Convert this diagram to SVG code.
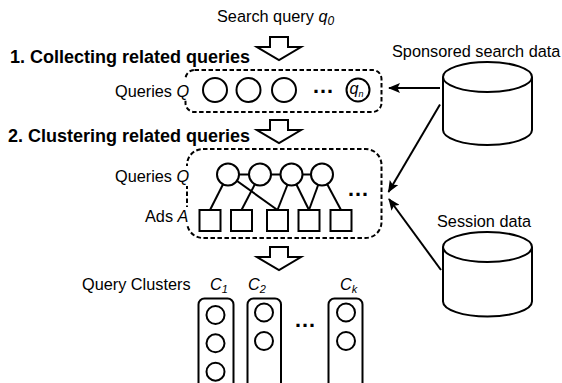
<svg xmlns="http://www.w3.org/2000/svg" width="562" height="383" viewBox="0 0 562 383">
<style>
text{font-family:"Liberation Sans",Arial,sans-serif;fill:#000}
.lbl{font-size:16.3px}
.ttl{font-size:18px;font-weight:bold}
.it{font-style:italic}
.dash{fill:none;stroke:#000;stroke-width:2;stroke-dasharray:4.5 2.5}
.s{fill:#fff;stroke:#000;stroke-width:2}
.ln{stroke:#000;stroke-width:2;fill:none}
.bg{fill:#fff}
.dots{font-size:22px;font-weight:bold}
</style>
<defs>
<marker id="ah" viewBox="0 0 12 10" refX="11" refY="5" markerWidth="12" markerHeight="10" markerUnits="userSpaceOnUse" orient="auto">
<path d="M0,0 L12,5 L0,10 L2.5,5 z" fill="#000"/>
</marker>
<polygon id="bigarrow" points="-9,0 9,0 9,10 22,10 0,23 -22,10 -9,10"/>
</defs>

<text class="lbl" x="217" y="22" font-size="17.3">Search query <tspan class="it">q</tspan><tspan class="it" font-size="12" dy="3">0</tspan></text>

<g id="arrow1"><use href="#bigarrow" x="279" y="37" class="s"/></g>
<text class="ttl" x="10" y="63">1. Collecting related queries</text>

<g id="box1">
<rect class="dash" x="185.5" y="70" width="196" height="42" rx="9"/>
<rect class="bg" x="112" y="79" width="76" height="20"/>
<text class="lbl" x="115" y="97">Queries <tspan class="it">Q</tspan></text>
<circle class="s" cx="215" cy="90" r="12"/>
<circle class="s" cx="248.5" cy="90" r="12"/>
<circle class="s" cx="284" cy="90" r="12"/>
<text class="dots" x="312" y="93">…</text>
<circle class="s" cx="358" cy="90" r="11.5"/>
<text class="lbl it" x="349.5" y="94" font-size="13">q<tspan font-size="9" dy="3">n</tspan></text>
</g>

<g id="arrow2"><use href="#bigarrow" x="279" y="120" class="s"/></g>
<text class="ttl" x="8" y="141.5">2. Clustering related queries</text>

<g id="box2">
<rect class="dash" x="187" y="149" width="194.5" height="89" rx="16"/>
<rect class="bg" x="112" y="166" width="78" height="20"/>
<rect class="bg" x="142" y="207" width="48" height="17"/>
<text class="lbl" x="115" y="181.5">Queries <tspan class="it">Q</tspan></text>
<text class="lbl" x="145" y="222">Ads <tspan class="it">A</tspan></text>
<g class="ln">
<line x1="228" y1="174.5" x2="322" y2="174.5"/>
<line x1="228" y1="174.5" x2="210" y2="210"/>
<line x1="228" y1="174.5" x2="277.5" y2="210"/>
<line x1="260" y1="174.5" x2="241.5" y2="210"/>
<line x1="291.5" y1="174.5" x2="277.5" y2="210"/>
<line x1="291.5" y1="174.5" x2="309" y2="210"/>
<line x1="322" y1="174.5" x2="309" y2="210"/>
<line x1="322" y1="174.5" x2="341" y2="210"/>
</g>
<circle class="s" cx="228" cy="174.5" r="11"/>
<circle class="s" cx="260" cy="174.5" r="11"/>
<circle class="s" cx="291.5" cy="174.5" r="11"/>
<circle class="s" cx="322" cy="174.5" r="11"/>
<rect class="s" x="199.5" y="210" width="21" height="21"/>
<rect class="s" x="231" y="210" width="21" height="21"/>
<rect class="s" x="267" y="210" width="21" height="21"/>
<rect class="s" x="298.5" y="210" width="21" height="21"/>
<rect class="s" x="330.5" y="210" width="21" height="21"/>
<text class="dots" x="347" y="196">…</text>
</g>

<g id="arrow3"><use href="#bigarrow" x="279" y="247" class="s"/></g>

<g id="clusters">
<text class="lbl" x="82" y="290">Query Clusters</text>
<text class="lbl it" x="210" y="290">C<tspan font-size="11" dy="3">1</tspan></text>
<text class="lbl it" x="248" y="290">C<tspan font-size="11" dy="3">2</tspan></text>
<text class="lbl it" x="340" y="290">C<tspan font-size="11" dy="3">k</tspan></text>
<g id="c1">
<rect class="s" x="198.5" y="298.5" width="35" height="100" rx="6"/>
<circle class="s" cx="215.5" cy="315" r="9"/>
<circle class="s" cx="215.5" cy="343.3" r="9"/>
<circle class="s" cx="215.5" cy="371.7" r="9"/>
</g>
<g id="c2">
<rect class="s" x="247.5" y="298.5" width="33.5" height="100" rx="6"/>
<circle class="s" cx="264" cy="312.5" r="9"/>
<circle class="s" cx="264" cy="341" r="9"/>
</g>
<text class="dots" x="294" y="327">…</text>
<g id="ck">
<rect class="s" x="328.5" y="298.5" width="34" height="100" rx="6"/>
<circle class="s" cx="346" cy="312.5" r="9"/>
<circle class="s" cx="346" cy="341" r="9"/>
</g>
</g>

<g id="sponsored">
<text class="lbl" x="392" y="56.5">Sponsored search data</text>
<path class="s" d="M443,77 V130 A44.5,15 0 0 0 532,130 V77"/>
<ellipse class="s" cx="487.5" cy="77" rx="44.5" ry="15"/>
</g>
<g id="session">
<text class="lbl" x="437" y="226.5">Session data</text>
<path class="s" d="M443,247 V301.5 A44.5,15 0 0 0 532,301.5 V247"/>
<ellipse class="s" cx="487.5" cy="247" rx="44.5" ry="15"/>
</g>

<g id="connectors" class="ln" stroke-width="2.5">
<line x1="440" y1="88" x2="389" y2="88" marker-end="url(#ah)"/>
<line x1="440" y1="104.5" x2="388.5" y2="192" marker-end="url(#ah)"/>
<line x1="441" y1="270" x2="389" y2="199" marker-end="url(#ah)"/>
</g>
</svg>
